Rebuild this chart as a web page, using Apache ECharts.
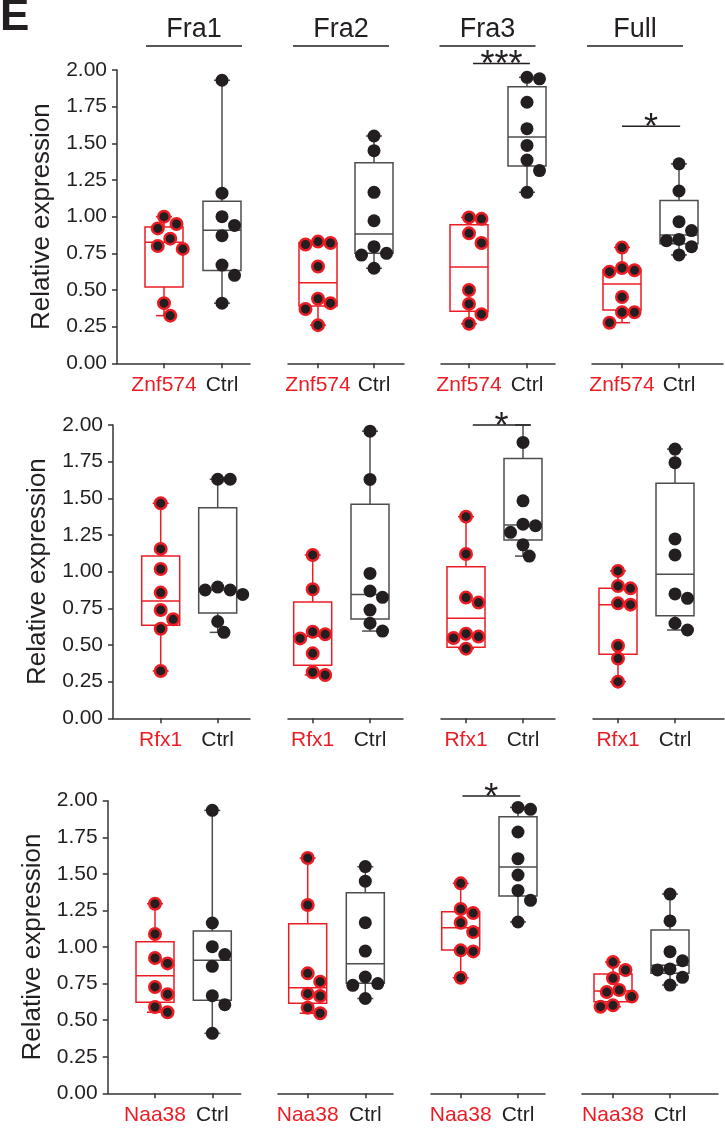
<!DOCTYPE html>
<html><head><meta charset="utf-8">
<script src="https://cdn.jsdelivr.net/npm/echarts@6/dist/echarts.min.js"></script>
<style>html,body{margin:0;padding:0;background:#fff}#c{width:725px;height:1129px}</style>
</head><body><div id="c"></div>
<script>
// ---------------- data ----------------
const panelLetter = 'E';
const groupNames = ['Fra1', 'Fra2', 'Fra3', 'Full'];
const geneNames = ['Znf574', 'Rfx1', 'Naa38'];
const ctrlName = 'Ctrl';
const yAxisName = 'Relative expression';
const yMin = 0, yMax = 2, yStep = 0.25;

// Znf574 row  (per group: Fra1, Fra2, Fra3, Full)
const znf574Points = [
  [1.00, 0.95, 0.92, 0.85, 0.80, 0.78, 0.41, 0.325],
  [0.83, 0.82, 0.81, 0.66, 0.44, 0.41, 0.37, 0.26],
  [0.995, 0.985, 0.886, 0.82, 0.50, 0.405, 0.335, 0.27],
  [0.79, 0.65, 0.634, 0.625, 0.452, 0.348, 0.348, 0.277]
];
// [min, Q1, median, Q3, max]
const znf574Boxes = [
  [0.325, 0.52, 0.825, 0.93, 1.00],
  [0.26, 0.39, 0.55, 0.822, 0.83],
  [0.27, 0.355, 0.657, 0.945, 0.995],
  [0.277, 0.364, 0.54, 0.64, 0.79]
];
const znf574CtrlPoints = [
  [1.93, 1.16, 1.00, 0.94, 0.87, 0.67, 0.60, 0.41],
  [1.55, 1.45, 1.166, 0.972, 0.795, 0.75, 0.738, 0.648],
  [1.95, 1.94, 1.78, 1.60, 1.486, 1.386, 1.314, 1.166],
  [1.36, 1.175, 0.966, 0.905, 0.845, 0.836, 0.795, 0.739]
];
const znf574CtrlBoxes = [
  [0.41, 0.632, 0.907, 1.105, 1.93],
  [0.648, 0.75, 0.881, 1.368, 1.55],
  [1.166, 1.345, 1.543, 1.886, 1.95],
  [0.739, 0.816, 0.875, 1.11, 1.36]
];

// Rfx1 row
const rfx1Points = [
  [1.466, 1.155, 1.018, 0.857, 0.739, 0.675, 0.611, 0.323],
  [1.114, 0.88, 0.59, 0.573, 0.545, 0.443, 0.314, 0.295],
  [1.375, 1.12, 0.823, 0.789, 0.577, 0.557, 0.548, 0.475],
  [1.005, 0.902, 0.886, 0.784, 0.775, 0.495, 0.407, 0.25]
];
const rfx1Boxes = [
  [0.323, 0.634, 0.80, 1.107, 1.466],
  [0.295, 0.361, 0.56, 0.793, 1.114],
  [0.475, 0.484, 0.682, 1.034, 1.375],
  [0.25, 0.436, 0.775, 0.886, 1.005]
];
const rfx1CtrlPoints = [
  [1.63, 1.63, 0.895, 0.875, 0.875, 0.845, 0.66, 0.586],
  [1.958, 1.629, 0.988, 0.868, 0.825, 0.738, 0.648, 0.595],
  [1.881, 1.483, 1.324, 1.313, 1.268, 1.183, 1.106],
  [1.836, 1.743, 1.223, 1.114, 0.848, 0.818, 0.648, 0.602]
];
const rfx1CtrlBoxes = [
  [0.586, 0.718, 0.875, 1.436, 1.63],
  [0.595, 0.677, 0.845, 1.459, 1.958],
  [1.106, 1.215, 1.318, 1.772, 2.0],
  [0.602, 0.70, 0.982, 1.602, 1.836]
];

// Naa38 row
const naa38Points = [
  [1.296, 1.089, 0.925, 0.888, 0.727, 0.677, 0.59, 0.554],
  [1.608, 1.287, 0.82, 0.763, 0.681, 0.665, 0.585, 0.547],
  [1.435, 1.26, 1.232, 1.166, 1.102, 0.977, 0.970, 0.79],
  [0.897, 0.843, 0.786, 0.706, 0.692, 0.661, 0.601, 0.592]
];
const naa38Boxes = [
  [0.554, 0.622, 0.804, 1.036, 1.296],
  [0.547, 0.615, 0.722, 1.159, 1.608],
  [0.79, 0.98, 1.132, 1.241, 1.435],
  [0.592, 0.626, 0.70, 0.815, 0.897]
];
const naa38CtrlPoints = [
  [1.934, 1.164, 1.002, 0.948, 0.868, 0.667, 0.606, 0.41],
  [1.55, 1.45, 1.166, 0.972, 0.795, 0.75, 0.738, 0.648],
  [1.954, 1.941, 1.786, 1.604, 1.492, 1.387, 1.319, 1.171],
  [1.362, 1.178, 0.968, 0.906, 0.85, 0.843, 0.793, 0.74]
];
const naa38CtrlBoxes = [
  [0.41, 0.636, 0.909, 1.109, 1.934],
  [0.648, 0.752, 0.886, 1.371, 1.549],
  [1.171, 1.349, 1.547, 1.891, 1.954],
  [0.74, 0.82, 0.875, 1.116, 1.362]
];

// significance bars: row, group, x-from, x-to (category positions), bar level, label
const sigRows = [0, 0, 1, 2];
const sigGroups = [2, 3, 2, 2];
const sigFrom = [1.07, 1.0, 1.12, 1.03];
const sigTo = [2.05, 2.02, 2.13, 2.04];
const sigLevel = [2.045, 1.617, 2.0, 2.032];
const sigLabels = ['***', '*', '*', '*'];

// ---------------- layout & style ----------------
const FONT = '"Liberation Sans", Arial, Helvetica, sans-serif';
const RED = '#ec1c24';
const DARK = '#231f20';
const GREY = '#4d4d4d';
const AXIS = '#333333';
const BOX_HALF = 19, CAP_HALF = 8;

// per row: top, height, and per group [left, tick1, tick2, right] in px
const rowLayout = [
  {top: 70, height: 293.3, groups: [[117, 164, 222, 250], [288, 318, 374, 404], [441, 469, 527, 555], [592, 622, 679, 723]]},
  {top: 425, height: 293.3, groups: [[113, 160.7, 217.7, 250], [288, 312.7, 370, 403], [441, 466, 523, 555], [593, 618, 675, 724]]},
  {top: 800.7, height: 292.6, groups: [[107.7, 155, 212.3, 240.7], [278, 307.7, 365.3, 393], [431, 460.7, 518, 545], [582, 613, 670, 718]]}
];
const titleCenters = [194, 341, 487.5, 635];

const rows = [
  {gene: geneNames[0], pts: znf574Points, boxes: znf574Boxes, cPts: znf574CtrlPoints, cBoxes: znf574CtrlBoxes},
  {gene: geneNames[1], pts: rfx1Points, boxes: rfx1Boxes, cPts: rfx1CtrlPoints, cBoxes: rfx1CtrlBoxes},
  {gene: geneNames[2], pts: naa38Points, boxes: naa38Boxes, cPts: naa38CtrlPoints, cBoxes: naa38CtrlBoxes}
];

// deterministic beeswarm (pixel space) -> offsets in axis units
function swarm(values, pxPerY, pxPerX, diam) {
  const order = values.map((v, i) => i).sort((a, b) => values[b] - values[a]);
  const placed = [];
  const offs = new Array(values.length).fill(0);
  const step = diam / 2;
  const cands = [0];
  for (let j = 1; j < 12; j++) { cands.push(j * step, -j * step); }
  order.forEach(i => {
    const y = values[i] * pxPerY;
    let chosen = 0;
    for (const c of cands) {
      if (placed.every(p => Math.hypot(p.x - c, p.y - y) >= diam)) { chosen = c; break; }
    }
    placed.push({x: chosen, y: y});
    offs[i] = chosen / pxPerX;
  });
  return offs;
}

function boxRenderer(color) {
  return function (params, api) {
    const x = api.value(0);
    const p = [1, 2, 3, 4, 5].map(i => api.coord([x, api.value(i)]));
    const cx = p[0][0];
    const st = {stroke: color, lineWidth: 1.5};
    return {type: 'group', children: [
      {type: 'line', shape: {x1: cx, y1: p[0][1], x2: cx, y2: p[1][1]}, style: st},
      {type: 'line', shape: {x1: cx, y1: p[3][1], x2: cx, y2: p[4][1]}, style: st},
      {type: 'line', shape: {x1: cx - CAP_HALF, y1: p[0][1], x2: cx + CAP_HALF, y2: p[0][1]}, style: st},
      {type: 'line', shape: {x1: cx - CAP_HALF, y1: p[4][1], x2: cx + CAP_HALF, y2: p[4][1]}, style: st},
      {type: 'rect', shape: {x: cx - BOX_HALF, y: p[3][1], width: 2 * BOX_HALF, height: p[1][1] - p[3][1]},
        style: {stroke: color, lineWidth: 1.5, fill: 'rgba(0,0,0,0)'}},
      {type: 'line', shape: {x1: cx - BOX_HALF, y1: p[2][1], x2: cx + BOX_HALF, y2: p[2][1]}, style: st}
    ]};
  };
}

function sigRenderer(label) {
  return function (params, api) {
    const a = api.coord([api.value(0), api.value(2)]);
    const b = api.coord([api.value(1), api.value(2)]);
    return {type: 'group', children: [
      {type: 'line', shape: {x1: a[0], y1: a[1], x2: b[0], y2: b[1]}, style: {stroke: DARK, lineWidth: 1.5}},
      {type: 'text', style: {text: label, x: (a[0] + b[0]) / 2, y: a[1] + 3, align: 'center', verticalAlign: 'middle',
        font: '36px ' + FONT, fill: DARK}}
    ]};
  };
}

const grids = [], xAxes = [], yAxes = [], series = [];
const titles = [{text: panelLetter, left: 0, top: -4, padding: 0,
  textStyle: {fontFamily: FONT, fontSize: 44, fontWeight: 'bold', color: DARK}}];

groupNames.forEach((g, gi) => {
  titles.push({
    text: '{t|' + g + '}\n{u| }', left: titleCenters[gi], top: 15, padding: 0, textAlign: 'center',
    textStyle: {fontWeight: 'normal', rich: {
      t: {fontFamily: FONT, fontSize: 27, fontWeight: 'normal', lineHeight: 30, color: DARK, align: 'center'},
      u: {width: 96, height: 1.5, lineHeight: 2, fontSize: 1, backgroundColor: DARK, align: 'center'}
    }}
  });
});

rows.forEach((row, r) => {
  const L = rowLayout[r];
  L.groups.forEach((gl, g) => {
    const idx = r * 4 + g;
    const [left, t1, t2, right] = gl;
    const ppu = t2 - t1;
    grids.push({left: left, width: right - left, top: L.top, height: L.height, containLabel: false});
    xAxes.push({
      type: 'value', gridIndex: idx,
      min: 1 - (t1 - left) / ppu, max: 2 + (right - t2) / ppu,
      axisLine: {show: true, lineStyle: {color: AXIS, width: 1.5}},
      axisTick: {show: true, customValues: [1, 2], length: 5, lineStyle: {color: AXIS, width: 1.5}},
      axisLabel: {
        customValues: [1, 2], margin: 11,
        formatter: v => (Math.round(v) === 1 ? '{r|' + row.gene + '}' : '{k|' + ctrlName + '}'),
        rich: {
          r: {fontFamily: FONT, fontSize: 21, color: RED},
          k: {fontFamily: FONT, fontSize: 21, color: DARK}
        }
      },
      splitLine: {show: false}
    });
    if (g === 0) {
      yAxes.push({
        type: 'value', gridIndex: idx, min: yMin, max: yMax, interval: yStep,
        name: yAxisName, nameLocation: 'middle', nameGap: 62,
        nameTextStyle: {fontFamily: FONT, fontSize: 26, color: DARK},
        axisLine: {show: true, lineStyle: {color: AXIS, width: 1.5}},
        axisTick: {show: true, length: 5, lineStyle: {color: AXIS, width: 1.5}},
        axisLabel: {fontFamily: FONT, fontSize: 21, color: DARK, margin: 10, formatter: v => v.toFixed(2)},
        splitLine: {show: false}
      });
    } else {
      yAxes.push({type: 'value', gridIndex: idx, min: yMin, max: yMax, show: false, splitLine: {show: false}});
    }
    const pxPerY = L.height / (yMax - yMin);
    // boxes
    series.push({
      type: 'custom', xAxisIndex: idx, yAxisIndex: idx, renderItem: boxRenderer(RED), z: 2,
      encode: {x: 0, y: [1, 2, 3, 4, 5]},
      data: [[1].concat(row.boxes[g])]
    });
    series.push({
      type: 'custom', xAxisIndex: idx, yAxisIndex: idx, renderItem: boxRenderer(GREY), z: 2,
      encode: {x: 0, y: [1, 2, 3, 4, 5]},
      data: [[2].concat(row.cBoxes[g])]
    });
    // points
    const oR = swarm(row.pts[g], pxPerY, ppu, 12.5);
    series.push({
      type: 'scatter', xAxisIndex: idx, yAxisIndex: idx, z: 3, symbolSize: 11.5,
      itemStyle: {color: DARK, borderColor: RED, borderWidth: 2.5, opacity: 1},
      data: row.pts[g].map((v, i) => [1 + oR[i], v])
    });
    const oC = swarm(row.cPts[g], pxPerY, ppu, 12.5);
    series.push({
      type: 'scatter', xAxisIndex: idx, yAxisIndex: idx, z: 3, symbolSize: 13,
      itemStyle: {color: DARK, opacity: 1},
      data: row.cPts[g].map((v, i) => [2 + oC[i], v])
    });
  });
});

sigLabels.forEach((lab, k) => {
  const idx = sigRows[k] * 4 + sigGroups[k];
  series.push({
    type: 'custom', xAxisIndex: idx, yAxisIndex: idx, renderItem: sigRenderer(lab), z: 4, clip: false,
    encode: {x: [0, 1], y: 2},
    data: [[sigFrom[k], sigTo[k], sigLevel[k]]]
  });
});

const chart = echarts.init(document.getElementById('c'), null, {renderer: 'canvas'});
chart.setOption({
  animation: false,
  backgroundColor: '#ffffff',
  title: titles,
  grid: grids,
  xAxis: xAxes,
  yAxis: yAxes,
  series: series
});
</script></body></html>
